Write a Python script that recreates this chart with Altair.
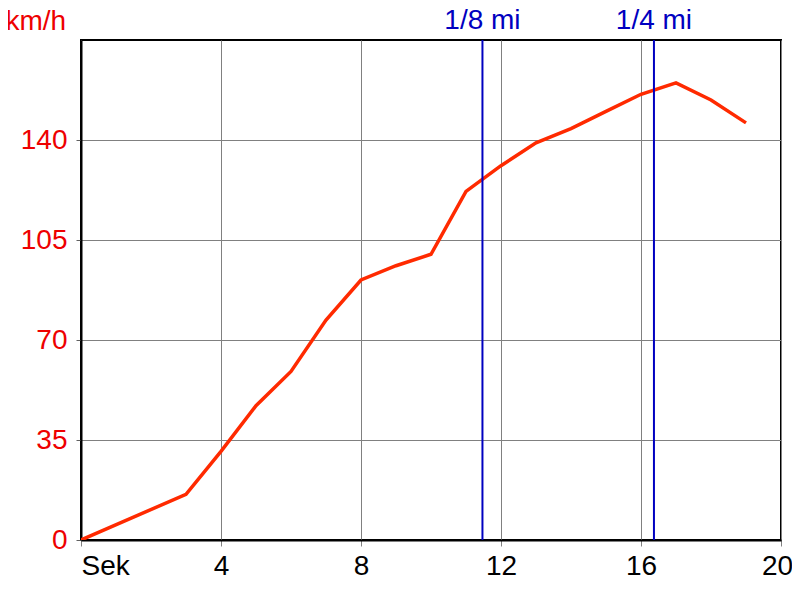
import altair as alt
import pandas as pd

seconds = [0, 3, 4, 5, 6, 7, 8, 9, 10, 11, 12, 13, 14, 15, 16, 17, 18, 19]
speed = [0, 16, 31, 47, 59, 77, 91, 96, 100, 122, 131, 139, 144, 150, 156, 160, 154, 146]

marker_x = [11.47, 16.37]
marker_label = ["1/8 mi", "1/4 mi"]

x_ticks = [0, 4, 8, 12, 16, 20]
y_ticks = [0, 35, 70, 105, 140]

df = pd.DataFrame({"t": seconds, "v": speed})
mk = pd.DataFrame({"x": marker_x, "label": marker_label})

FONT = "Liberation Sans"

xscale = alt.Scale(domain=[0, 20], nice=False, zero=False)
yscale = alt.Scale(domain=[0, 175], nice=False)

line = alt.Chart(df).mark_line(color="#ff2a00", strokeWidth=3.5, clip=True).encode(
    x=alt.X("t:Q", scale=xscale,
            axis=alt.Axis(values=x_ticks, title=None, grid=True, gridColor="#808080",
                          gridWidth=1, gridOpacity=1, domainColor="black", domainWidth=2,
                          tickColor="#808080", tickSize=6, tickWidth=1,
                          labelFont=FONT, labelFontSize=28, labelColor="black",
                          labelPadding=6,
                          labelExpr="datum.value == 0 ? 'Sek' : datum.label",
                          labelAlign={"condition": {"test": "datum.value == 0", "value": "left"},
                                      "value": "center"},
                          labelOffset={"condition": {"test": "datum.value == 20", "value": -4},
                                       "value": 0},
                          labelFlush=False, labelOverlap=False)),
    y=alt.Y("v:Q", scale=yscale,
            axis=alt.Axis(values=y_ticks, grid=True, gridColor="#808080", gridWidth=1,
                          gridOpacity=1, domainColor="black", domainWidth=2,
                          tickColor="#606060", tickSize=5, tickWidth=1,
                          labelFont=FONT, labelFontSize=28, labelColor="#ee0000",
                          labelPadding=9, labelFlush=False, labelOverlap=False,
                          title="km/h", titleAngle=0, titleAlign="left",
                          titleBaseline="alphabetic", titleX=-76, titleY=-11,
                          titleFont=FONT, titleFontSize=28, titleFontWeight="normal",
                          titleColor="#ee0000")),
)

rules = alt.Chart(mk).mark_rule(color="#0000c0", strokeWidth=2).encode(
    x=alt.X("x:Q", scale=xscale)
)

labels = alt.Chart(mk).mark_text(color="#0000c0", font=FONT, fontSize=28,
                                 align="center", baseline="alphabetic").encode(
    x=alt.X("x:Q", scale=xscale),
    y=alt.value(-11),
    text="label:N",
)

chart = alt.layer(line, rules, labels).properties(
    width=700, height=500,
    autosize=alt.AutoSizeParams(type="none"),
    padding={"left": 73, "top": 32, "right": 11, "bottom": 50},
    background="white",
).configure_view(stroke="black", strokeWidth=2)

chart.save("out.html", embed_options={"renderer": "svg", "actions": False})
